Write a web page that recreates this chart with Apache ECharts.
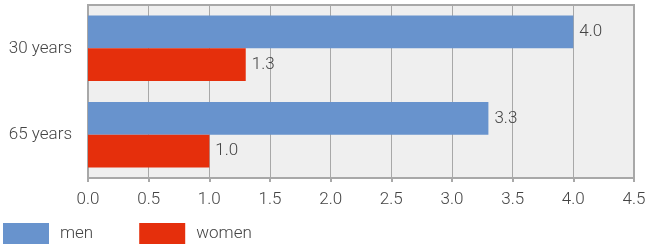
<!DOCTYPE html>
<html><head><meta charset="utf-8">
<script src="https://cdn.jsdelivr.net/npm/echarts@6/dist/echarts.min.js"></script>
<style>html,body{margin:0;padding:0;background:#fff}#c{width:653px;height:244px}</style>
</head><body><div id="c"></div>
<script>
const categories = ["30 years", "65 years"];
const men = [4.0, 3.3];
const women = [1.3, 1.0];
const seriesNames = ["men", "women"];
const colors = ["#6893cd", "#e52f0c"];

const chart = echarts.init(document.getElementById('c'), null, {renderer: 'canvas'});
const font = 'Roboto';
const fs = 17;
const fw = 300;
const labelCfg = {show: true, position: 'right', distance: 6, color: '#444', fontFamily: font, fontSize: fs, fontWeight: fw,
  formatter: p => p.value.toFixed(1)};
chart.setOption({
  animation: false,
  textStyle: {fontFamily: font},
  grid: {left: 88, right: 19, top: 5, bottom: 66, show: true, backgroundColor: '#efefef', borderColor: '#a8a8a8', borderWidth: 2},
  legend: {left: 3, bottom: 0, padding: 0, itemWidth: 46, itemHeight: 21, itemGap: 46, icon: 'rect',
    textStyle: {fontFamily: font, fontSize: fs, fontWeight: fw, color: '#444', padding: [0, 0, 0, 6]},
    data: seriesNames},
  xAxis: {type: 'value', min: 0, max: 4.5, interval: 0.5,
    axisLine: {show: false},
    axisTick: {show: true, length: 4, lineStyle: {color: '#a8a8a8', width: 2}},
    splitLine: {show: true, lineStyle: {color: '#a8a8a8', width: 1}},
    axisLabel: {color: '#444', fontSize: fs, fontWeight: fw, fontFamily: font, margin: 13, formatter: v => v.toFixed(1)}},
  yAxis: {type: 'category', data: categories, inverse: true,
    axisLine: {show: false}, axisTick: {show: false},
    axisLabel: {color: '#444', fontSize: fs, fontWeight: fw, fontFamily: font, margin: 16}},
  series: [
    {name: seriesNames[0], type: 'bar', data: men, itemStyle: {color: colors[0]}, barGap: '0%', barCategoryGap: '24%', label: labelCfg},
    {name: seriesNames[1], type: 'bar', data: women, itemStyle: {color: colors[1]}, barGap: '0%', barCategoryGap: '24%', label: labelCfg}
  ]
});
</script></body></html>
